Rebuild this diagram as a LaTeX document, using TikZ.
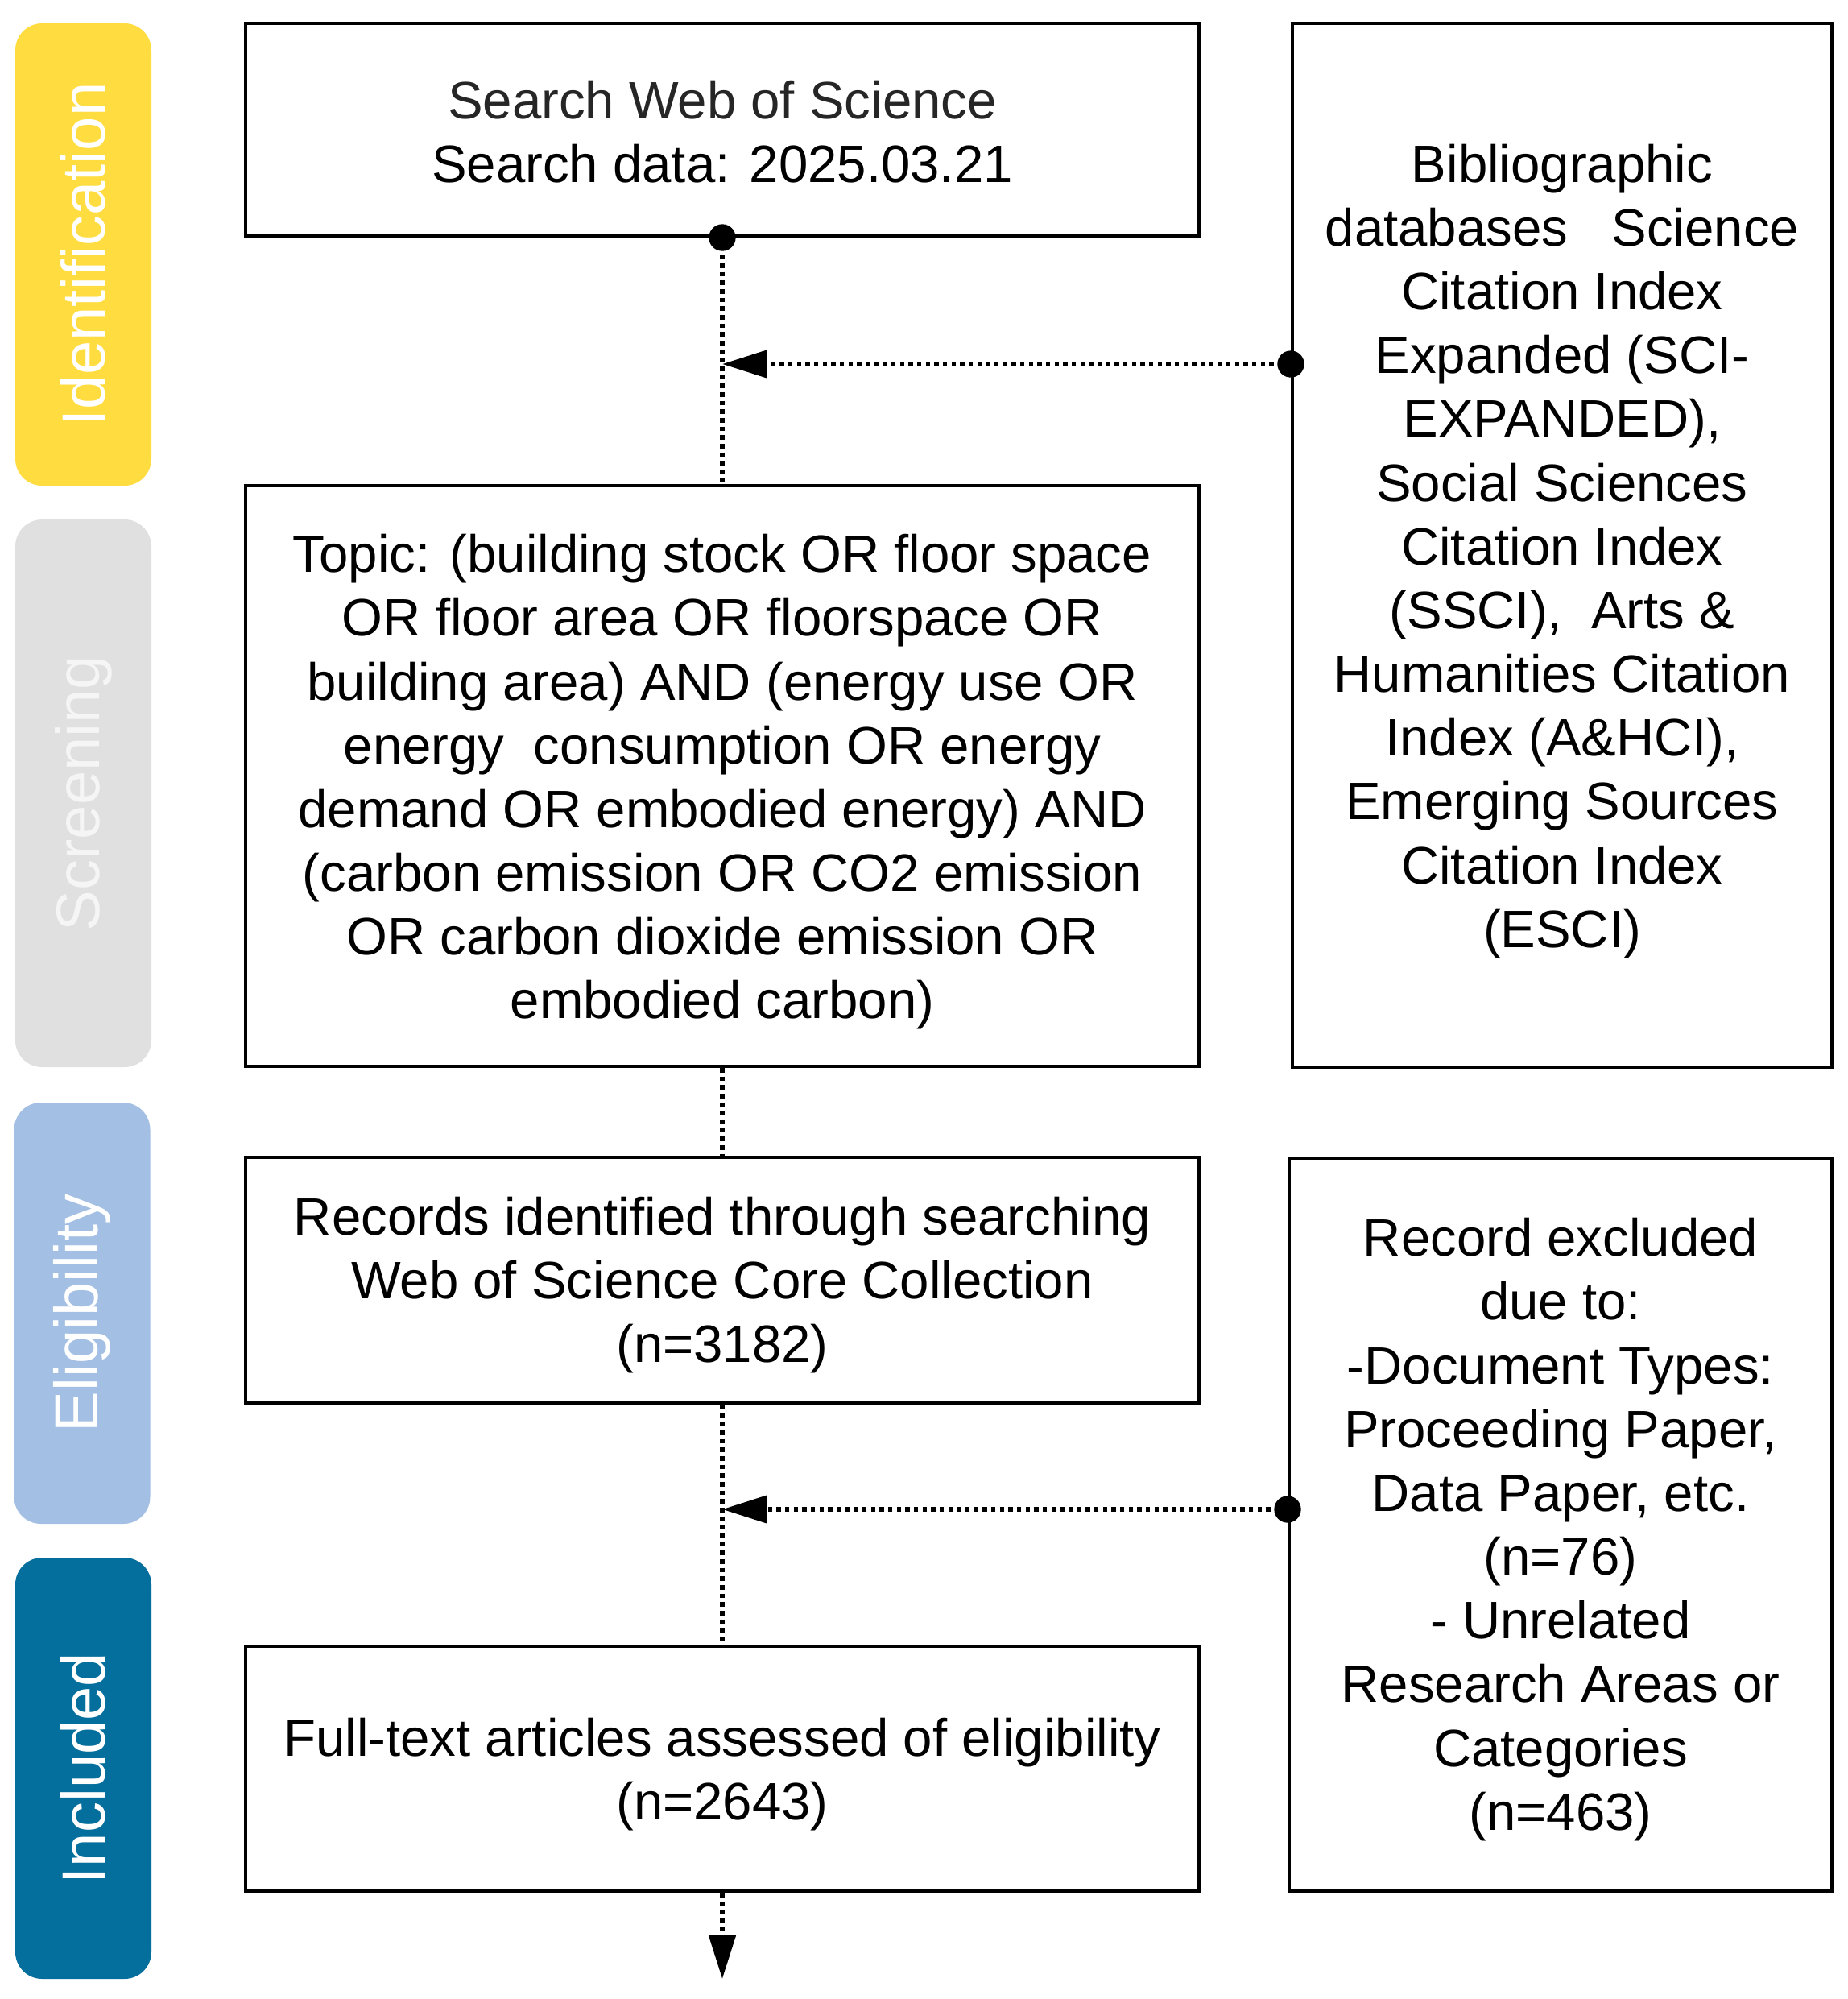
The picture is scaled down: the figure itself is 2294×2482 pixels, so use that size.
\documentclass[tikz,border=0pt]{standalone}
\usepackage{fontspec}
\setmainfont{Liberation Sans}
\usetikzlibrary{arrows.meta}
\definecolor{cyel}{HTML}{FFDC40}
\definecolor{cgray}{HTML}{E0E0E0}
\definecolor{clblue}{HTML}{A3BFE4}
\definecolor{cdblue}{HTML}{046E9C}
\begin{document}
\begin{tikzpicture}[x=0.3pt,y=-0.3pt,
  box/.style={draw, line width=1.2pt, inner sep=0pt},
  txt/.style={align=center, inner sep=0pt, font=\fontsize{19.6}{23.75}\selectfont},
  bar/.style={rounded corners=10pt, text=white, rotate=90, inner sep=0pt,
    minimum height=50.7pt, font=\fontsize{22.8}{27}\selectfont},
  vline/.style={line width=1.65pt, dash pattern=on 1.65pt off 1.55pt},
  hline/.style={line width=1.65pt, dash pattern=on 1.6pt off 1.6pt},
  tip/.style={-{Triangle[length=16.5pt,width=10pt]}},
  blob/.style={radius=5pt}
]
\useasboundingbox (0,0) rectangle (2294,2482);

% phase bars
\node[bar, fill=cyel, minimum width=172.2pt] (b1) at (103.5,316) {Identification};
\node[bar, fill=cgray, minimum width=204pt, text=white!96!black] (b2) at (103.5,985) {Screening};
\node[bar, fill=clblue, minimum width=156.9pt] (b3) at (102,1630.5) {Eligibility};
\node[bar, fill=cdblue, minimum width=156.9pt] (b4) at (103.5,2195.5) {Included};

% main boxes
\node[box, minimum width=355.2pt, minimum height=79.2pt] (search) at (897,161) {};
\node[box, minimum width=355.2pt, minimum height=216.3pt] (topic) at (897,963.5) {};
\node[box, minimum width=355.2pt, minimum height=91.5pt] (records) at (897,1589.5) {};
\node[box, minimum width=355.2pt, minimum height=91.2pt] (full) at (897,2196) {};

% side boxes
\node[box, minimum width=201pt, minimum height=388.8pt] (biblio) at (1940,677) {};
\node[box, minimum width=202.2pt, minimum height=273pt] (excl) at (1938,1893) {};

% box texts
\node[txt] (searchT) at ([yshift=-0.8pt]search.center)
  {\textcolor{black!85}{Search Web of Science}\\Search data: 2025.03.21};
\node[txt] (topicT) at ([yshift=-2.2pt]topic.center)
  {Topic: (building stock OR floor space\\OR floor area OR floorspace OR\\building area) AND (energy use OR\\energy\ \ consumption OR energy\\demand OR embodied energy) AND\\(carbon emission OR CO2 emission\\OR carbon dioxide emission OR\\embodied carbon)};
\node[txt] (recordsT) at ([yshift=-1.8pt]records.center)
  {Records identified through searching\\Web of Science Core Collection\\(n=3182)};
\node[txt] (fullT) at ([yshift=-2pt]full.center)
  {Full-text articles assessed of eligibility\\(n=2643)};
\node[txt] (biblioT) at ([yshift=-2.2pt]biblio.center)
  {Bibliographic\\databases\ \ \ Science\\Citation Index\\Expanded (SCI-\\EXPANDED),\\Social Sciences\\Citation Index\\(SSCI),\ \ Arts \&\\Humanities Citation\\Index (A\&HCI),\\Emerging Sources\\Citation Index\\(ESCI)};
\node[txt] (exclT) at ([yshift=-1.8pt]excl.center)
  {Record excluded\\due to:\\-Document Types:\\Proceeding Paper,\\Data Paper, etc.\\(n=76)\\- Unrelated\\Research Areas or\\Categories\\(n=463)};

% junctions
\coordinate (j1) at (897,452);
\coordinate (j2) at (897,1874);
\coordinate (endpt) at (897,2457);

% vertical flow
\draw[vline] (search.south) -- (topic.north);
\draw[vline] (topic.south) -- (records.north);
\draw[vline] (records.south) -- (full.north);
\draw[vline, tip] (full.south) -- (endpt);
\fill (search.south) circle[blob];

% side arrows
\draw[hline, tip] (biblio.west |- j1) -- (j1);
\fill (biblio.west |- j1) circle[blob];
\draw[hline, tip] (excl.west |- j2) -- (j2);
\fill (excl.west |- j2) circle[blob];
\end{tikzpicture}
\end{document}
